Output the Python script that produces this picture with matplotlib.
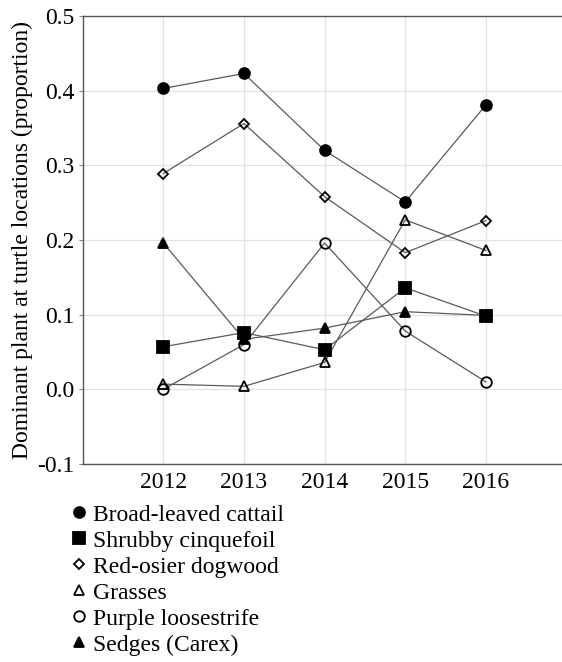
import matplotlib
matplotlib.use("Agg")
import matplotlib.pyplot as plt
from matplotlib.lines import Line2D

plt.rcParams['font.family'] = ['Liberation Serif', 'DejaVu Serif']

years = [2012, 2013, 2014, 2015, 2016]

cattail = [0.403, 0.423, 0.320, 0.251, 0.381]
cinquefoil = [0.057, 0.076, 0.053, 0.136, 0.098]
dogwood = [0.289, 0.356, 0.258, 0.183, 0.226]
grasses = [0.007, 0.004, 0.036, 0.227, 0.186]
loosestrife = [0.000, 0.060, 0.196, 0.078, 0.010]
sedges = [0.196, 0.067, 0.082, 0.104, 0.099]

labels = ["Broad-leaved cattail", "Shrubby cinquefoil", "Red-osier dogwood",
          "Grasses", "Purple loosestrife", "Sedges (Carex)"]

# marker, size, filled
styles = [("o", 7.8, True), ("s", 8.0, True), ("D", 5.0, False),
          ("^", 7.6, False), ("o", 7.6, False), ("^", 7.4, True)]

fig = plt.figure(figsize=(5.62, 6.62), dpi=100)
ax = fig.add_axes([82.6 / 562, 198 / 662, 484 / 562, 448 / 662])

series = [cattail, cinquefoil, dogwood, grasses, loosestrife, sedges]
handles = []
for vals, (m, ms, filled), lab in zip(series, styles, labels):
    fc = "black" if filled else "none"
    ax.plot(years, vals, color="#5a5a5a", lw=0.9, zorder=2)
    ax.plot(years, vals, ls="none", marker=m, ms=ms, mfc=fc, mec="black",
            mew=1.3, zorder=3)
    handles.append(Line2D([], [], ls="none", marker=m, ms=ms, mfc=fc,
                          mec="black", mew=1.3, label=lab))

ax.set_xlim(2011, 2017)
ax.set_ylim(-0.1, 0.5)
ax.set_xticks(years)
ax.set_yticks([-0.1, 0.0, 0.1, 0.2, 0.3, 0.4, 0.5])
ax.set_yticklabels(["-0.1", "0.0", "0.1", "0.2", "0.3", "0.4", "0.5"])
ax.grid(True, color="#e2e2e2", lw=0.9, zorder=0)
ax.set_axisbelow(True)
for s in ax.spines.values():
    s.set_color("#555555")
    s.set_linewidth(1.0)
ax.tick_params(axis="both", labelsize=17, length=3, color="#888888",
               pad=3)
ax.tick_params(axis="x", length=0, pad=6)
ax.set_ylabel("Dominant plant at turtle locations (proportion)", fontsize=17,
              labelpad=3)

fig.legend(handles=handles, loc="upper left",
           bbox_to_anchor=(71 / 562, 1 - 504 / 662), frameon=False,
           fontsize=17, handlelength=0.7, handletextpad=0.25,
           labelspacing=0.19, borderaxespad=0, borderpad=0)

fig.savefig("out.png", dpi=100)
